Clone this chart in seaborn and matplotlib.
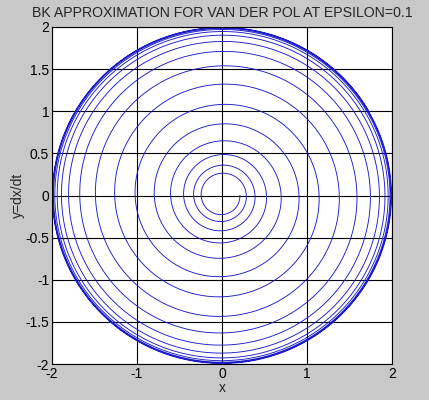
import numpy as np
import pandas as pd
import matplotlib
matplotlib.use("Agg")
import matplotlib.pyplot as plt
import seaborn as sns

# parameters of the BK (Krylov-Bogoliubov) approximation
epsilon = 0.1          # from title
a0 = 0.21              # start amplitude
t_end = 100.0
x_ticks = [-2, -1, 0, 1, 2]
y_ticks = [-2, -1.5, -1, -0.5, 0, 0.5, 1, 1.5, 2]
title = "BK APPROXIMATION FOR VAN DER POL AT EPSILON=0.1"

# amplitude a(t) and phase of the BK solution
t = np.linspace(0, t_end, 6000)
a = 2 / np.sqrt(1 + (4 / a0**2 - 1) * np.exp(-epsilon * t))
df = pd.DataFrame({"x": a * np.cos(t), "y": -a * np.sin(t)})

sns.set_theme(style="white")
plt.rcParams["font.family"] = ["Liberation Sans", "DejaVu Sans"]

fig = plt.figure(figsize=(4.29, 4.0), dpi=100, facecolor="#c8c8c8")
ax = fig.add_axes([0.121, 0.09, 0.793, 0.8425])
ax.set_facecolor("white")

sns.lineplot(data=df, x="x", y="y", sort=False, estimator=None,
             color="#1c1cc8", linewidth=0.65, ax=ax)

ax.set_xlim(-2, 2)
ax.set_ylim(-2, 2)
ax.set_xticks(x_ticks)
ax.set_yticks(y_ticks)
ax.set_xticklabels([f"{v:g}" for v in x_ticks])
ax.set_yticklabels([f"{v:g}" for v in y_ticks])
ax.grid(True, color="black", linewidth=0.8)
ax.set_axisbelow(True)
ax.tick_params(direction="in", length=3, labelsize=10, colors="black", pad=2)
for s in ax.spines.values():
    s.set_color("black")
    s.set_linewidth(0.8)

ax.set_xlabel("x", fontsize=10, labelpad=0)
ax.set_ylabel("y=dx/dt", fontsize=10, labelpad=0)
ax.set_title(title, fontsize=10.2, pad=7)

fig.savefig("out.png", dpi=100, facecolor=fig.get_facecolor())
